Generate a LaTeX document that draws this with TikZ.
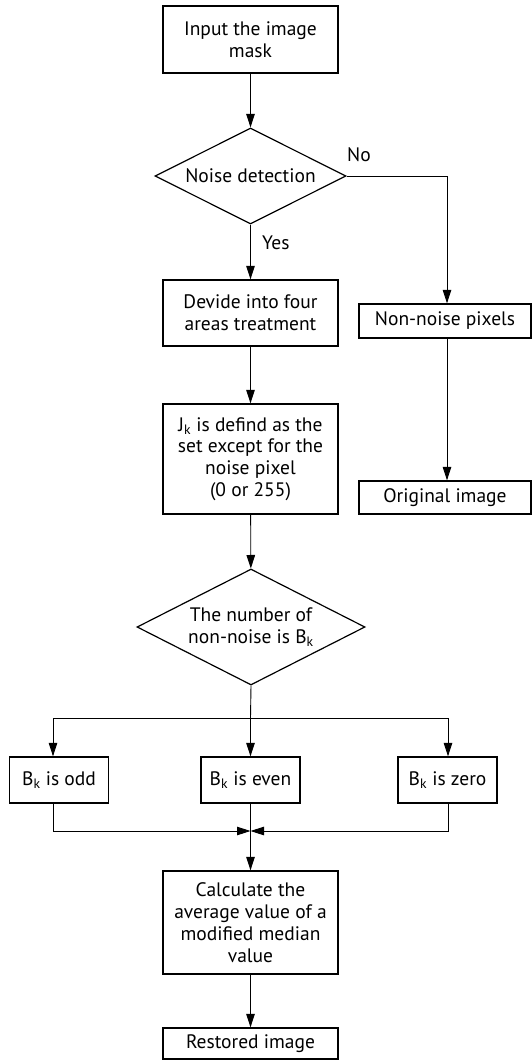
\documentclass[tikz,border=0pt]{standalone}
\usepackage{fontspec}
\setmainfont{PT Sans}
\usetikzlibrary{arrows.meta,shapes.geometric}
\begin{document}
\begin{tikzpicture}[x=1pt,y=-1pt,
  txt/.style={font=\fontsize{19.5}{21.8}\selectfont},
  box/.style={draw, line width=1.3pt, align=center, inner sep=0pt, txt},
  dec/.style={draw, diamond, aspect=2, line width=1.2pt, inner sep=0pt, align=center, txt},
  conn/.style={line width=0.9pt},
  arr/.style={conn, -{Triangle[length=13.5pt,width=8.5pt]}}]
\useasboundingbox (0,0) rectangle (532,1061);
% nodes
\node[box, minimum width=175pt, minimum height=67pt] (in) at (250.5,39.5) {Input the image\\mask};
\node[dec, minimum width=191pt, minimum height=96pt] (d1) at (250.5,176) {Noise detection};
\node[box, minimum width=175pt, minimum height=66pt] (div) at (250.5,313) {Devide into four\\areas treatment};
\node[box, minimum width=175pt, minimum height=110pt] (jk) at (250.5,459) {J\textsubscript{k} is defind as the\\set except for the\\noise pixel\\(0 or 255)};
\node[box, minimum width=172pt, minimum height=34pt] (nn) at (445,321) {Non-noise pixels};
\node[box, minimum width=172pt, minimum height=33pt] (orig) at (445,497.5) {Original image};
\node[dec, minimum width=228pt, minimum height=116pt] (d2) at (251,627) {The number of\\non-noise is B\textsubscript{k}};
\node[box, minimum width=99pt, minimum height=46pt] (odd) at (59,780) {B\textsubscript{k} is odd};
\node[box, minimum width=99pt, minimum height=46pt] (even) at (250.5,780) {B\textsubscript{k} is even};
\node[box, minimum width=99pt, minimum height=46pt] (zero) at (447.5,780) {B\textsubscript{k} is zero};
\node[box, minimum width=175pt, minimum height=103pt] (calc) at (250.5,922.5) {Calculate the\\average value of a\\modified median\\value};
\node[box, minimum width=175pt, minimum height=31pt] (rest) at (250.5,1043.5) {Restored image};
% labels
\node[txt, anchor=west, inner sep=0pt] (no) at (347,155) {No};
\node[txt, anchor=west, inner sep=0pt] (yes) at (262,243) {Yes};
% helper coordinates
\coordinate (nx) at (447,176);
\coordinate (bl) at (53,718);
\coordinate (bc) at (250.5,718);
\coordinate (br) at (448,718);
\coordinate (ml) at (53,831);
\coordinate (mc) at (250.5,831);
\coordinate (mr) at (448,831);
% connectors
\draw[arr] (in) -- (d1);
\draw[arr] (d1) -- (div);
\draw[arr] (div) -- (jk);
\draw[arr] (jk) -- (d2);
\draw[arr] (d1.east) -- (nx) -- (nx |- nn.north);
\draw[arr] (nx |- nn.south) -- (nx |- orig.north);
\draw[conn] (d2.south) -- (bc);
\draw[conn] (bl) -- (br);
\draw[arr] (bl) -- (bl |- odd.north);
\draw[arr] (bc) -- (bc |- even.north);
\draw[arr] (br) -- (br |- zero.north);
\draw[arr] (bl |- odd.south) -- (ml) -- (mc);
\draw[arr] (br |- zero.south) -- (mr) -- (mc);
\draw[arr] (even) -- (calc);
\draw[arr] (calc) -- (rest);
\end{tikzpicture}
\end{document}
